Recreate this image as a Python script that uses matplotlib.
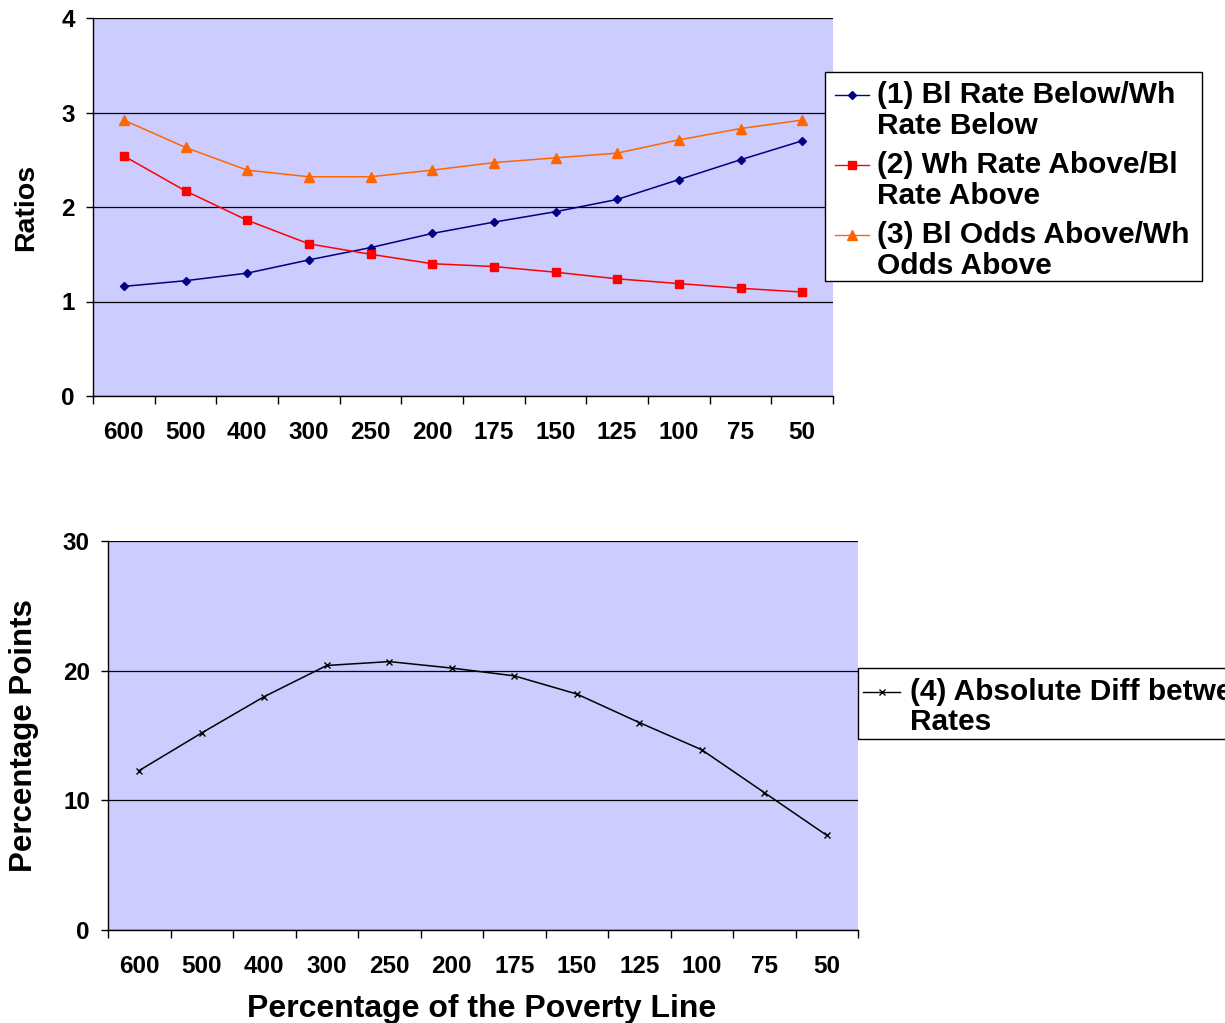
"""
Black/White poverty ratios by percentage of the poverty line
(two stacked Excel-style line charts).
"""

import matplotlib
matplotlib.use("Agg")
import matplotlib.pyplot as plt
from matplotlib.lines import Line2D
from matplotlib.patches import Rectangle

plt.rcParams["font.family"] = ["Liberation Sans", "DejaVu Sans"]
plt.rcParams["font.weight"] = "bold"

# ── data ────────────────────────────────────────────────────────────────
categories = ["600", "500", "400", "300", "250", "200",
              "175", "150", "125", "100", "75", "50"]

bl_rate_below = [1.16, 1.22, 1.30, 1.44, 1.57, 1.72, 1.84, 1.95, 2.08, 2.29, 2.50, 2.70]
wh_rate_above = [2.54, 2.17, 1.86, 1.61, 1.50, 1.40, 1.37, 1.31, 1.24, 1.19, 1.14, 1.10]
bl_odds_above = [2.92, 2.63, 2.39, 2.32, 2.32, 2.39, 2.47, 2.52, 2.57, 2.71, 2.83, 2.92]
abs_diff      = [12.3, 15.2, 18.0, 20.4, 20.7, 20.2, 19.6, 18.2, 16.0, 13.9, 10.6, 7.3]

top_labels = ["(1) Bl Rate Below/Wh\nRate Below",
              "(2) Wh Rate Above/Bl\nRate Above",
              "(3) Bl Odds Above/Wh\nOdds Above"]
bottom_label = "(4) Absolute Diff between\nRates"

top_ticks = [0, 1, 2, 3, 4]
bottom_ticks = [0, 10, 20, 30]

W, H = 1225, 1023
BG = "#CCCCFF"
TICK_FS = 17.5
LEG_FS = 21.5


def fx(px):
    return px / W


def fy(py):
    return 1 - py / H


def style_axes(ax, yticks):
    n = len(categories)
    ax.set_facecolor(BG)
    ax.set_xlim(-0.5, n - 0.5)
    ax.set_ylim(yticks[0], yticks[-1])
    ax.set_yticks(yticks)
    ax.set_yticklabels([str(t) for t in yticks], fontsize=TICK_FS, fontweight="bold")
    ax.set_xticks(range(n))
    ax.set_xticklabels(categories, fontsize=TICK_FS, fontweight="bold")
    ax.set_xticks([i - 0.5 for i in range(n + 1)], minor=True)
    ax.tick_params(axis="x", which="major", length=0, pad=18)
    ax.tick_params(axis="x", which="minor", length=6, direction="out", width=1)
    ax.tick_params(axis="y", length=5, direction="out", width=1, pad=8)
    ax.grid(True, axis="y", color="black", lw=0.9)
    ax.set_axisbelow(True)
    for s in ("top", "right"):
        ax.spines[s].set_visible(False)
    for s in ("left", "bottom"):
        ax.spines[s].set_color("black")
        ax.spines[s].set_linewidth(1.0)


def manual_legend(fig, box, entries, line_px, hx, tx, gap):
    # Excel-style legend: handle sits on the first line of a two-line label
    x0, y0, x1, y1 = box
    fig.add_artist(Rectangle((fx(x0), fy(y1)), fx(x1) - fx(x0), fy(y0) - fy(y1),
                             transform=fig.transFigure, facecolor="white",
                             edgecolor="black", lw=1.0, zorder=5))
    for k, (label, kw) in enumerate(entries):
        y = line_px + k * gap
        line_kw = {k2: v for k2, v in kw.items() if k2 == "color"}
        fig.add_artist(Line2D([fx(hx[0]), fx(hx[1])], [fy(y), fy(y)],
                              transform=fig.transFigure, lw=1.0, zorder=6, **line_kw))
        fig.add_artist(Line2D([fx((hx[0] + hx[1]) / 2)], [fy(y)],
                              transform=fig.transFigure, lw=0, zorder=7, **kw))
        for j, line in enumerate(label.split("\n")):
            fig.text(fx(tx), fy(y + j * 30.5), line, fontsize=LEG_FS,
                     fontweight="bold", va="center", ha="left", zorder=8)


fig = plt.figure(figsize=(W / 100, H / 100), dpi=100)

# ── top panel: ratios ───────────────────────────────────────────────────
ax1 = fig.add_axes([fx(93), fy(396), fx(833) - fx(93), fy(18) - fy(396)])
x = list(range(len(categories)))
s1 = dict(color="#000080", marker="D", markersize=4.5)
s2 = dict(color="#FF0000", marker="s", markersize=5.5)
s3 = dict(color="#FF6600", marker="^", markersize=6.5)
ax1.plot(x, bl_rate_below, lw=1.1, **s1)
ax1.plot(x, wh_rate_above, lw=1.1, **s2)
ax1.plot(x, bl_odds_above, lw=1.1, **s3)
style_axes(ax1, top_ticks)
ax1.set_ylabel("Ratios", fontsize=20.5, fontweight="bold")
ax1.yaxis.set_label_coords((39 - 93) / 740, 0.5)

manual_legend(fig, (825, 72, 1202, 281),
              list(zip(top_labels, [s1, s2, s3])),
              line_px=95, hx=(835, 869), tx=877, gap=70)

# ── bottom panel: absolute difference ───────────────────────────────────
ax2 = fig.add_axes([fx(108), fy(930), fx(858) - fx(108), fy(541) - fy(930)])
s4 = dict(color="black", marker="x", markersize=5, markeredgewidth=1.0)
ax2.plot(x, abs_diff, lw=1.1, **s4)
style_axes(ax2, bottom_ticks)
ax2.set_ylabel("Percentage Points", fontsize=22.5, fontweight="bold")
ax2.yaxis.set_label_coords((39 - 108) / 750, 0.5)
ax2.set_xlabel("Percentage of the Poverty Line", fontsize=23, fontweight="bold")
ax2.xaxis.set_label_coords(0.4987, (930 - 994) / 389)

manual_legend(fig, (858, 668, 1260, 739),
              [(bottom_label, s4)],
              line_px=692, hx=(863, 900), tx=910, gap=0)

fig.savefig("out.png", dpi=100)
